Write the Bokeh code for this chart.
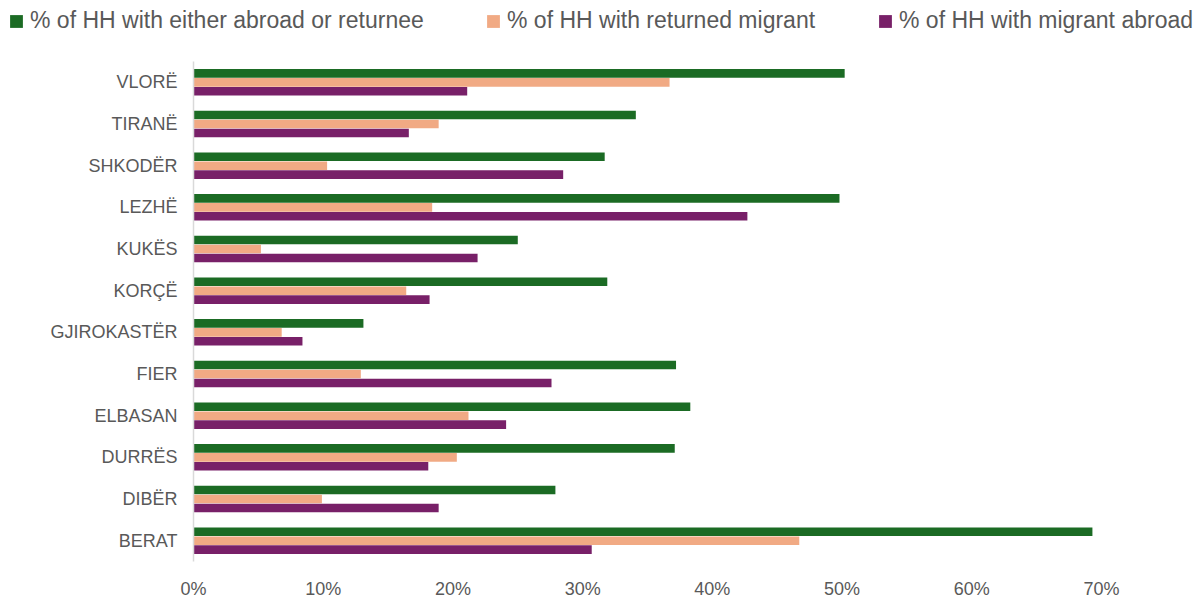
from bokeh.plotting import figure
from bokeh.models import (FactorRange, Range1d, Legend, LegendItem,
                          NumeralTickFormatter, ColumnDataSource, FixedTicker)
from bokeh.transform import dodge
from bokeh.embed import file_html
from bokeh.resources import INLINE

# ---- data (percent) ----
regions = ["BERAT", "DIBËR", "DURRËS", "ELBASAN", "FIER", "GJIROKASTËR",
           "KORÇË", "KUKËS", "LEZHË", "SHKODËR", "TIRANË", "VLORË"]
either_pct = [69.3, 27.9, 37.1, 38.3, 37.2, 13.1, 31.9, 25.0, 49.8, 31.7, 34.1, 50.2]
returned_pct = [46.7, 9.9, 20.3, 21.2, 12.9, 6.8, 16.4, 5.2, 18.4, 10.3, 18.9, 36.7]
abroad_pct = [30.7, 18.9, 18.1, 24.1, 27.6, 8.4, 18.2, 21.9, 42.7, 28.5, 16.6, 21.1]
series_names = ["% of HH with either abroad or returnee",
                "% of HH with returned migrant",
                "% of HH with migrant abroad"]
x_ticks_pct = [0, 10, 20, 30, 40, 50, 60, 70]

colors = ["#1b6b24", "#f1aa84", "#782068"]
FONT = "Liberation Sans"
TXT = "#595959"
W = 1194
LEG_H = 38

source = ColumnDataSource(dict(
    region=regions,
    either=[v / 100 for v in either_pct],
    returned=[v / 100 for v in returned_pct],
    abroad=[v / 100 for v in abroad_pct],
))

# ---- main chart ----
p = figure(width=W, height=23 + 502 + 38,
           y_range=FactorRange(factors=regions, range_padding=0),
           x_range=Range1d(0, x_ticks_pct[-1] / 100),
           output_backend="svg", toolbar_location=None,
           min_border_left=193, min_border_right=93,
           min_border_top=23, min_border_bottom=38)
p.outline_line_color = None
p.xgrid.visible = False
p.ygrid.visible = False

BH = 0.206
OFF = 0.215
cols = ["either", "returned", "abroad"]
offs = [OFF, 0.0, -OFF]
for c, o, col in zip(cols, offs, colors):
    p.hbar(y=dodge("region", o, range=p.y_range), right=c, left=0,
           height=BH, source=source, color=col, line_color=None)

p.yaxis.axis_line_color = "#d9d9d9"
p.yaxis.axis_line_width = 1.5
p.yaxis.major_tick_line_color = None
p.yaxis.minor_tick_line_color = None
p.yaxis.major_tick_out = 0
p.yaxis.major_tick_in = 0
p.yaxis.major_label_text_font = FONT
p.yaxis.major_label_text_font_size = "18px"
p.yaxis.major_label_text_color = TXT
p.yaxis.major_label_standoff = 16

p.xaxis.axis_line_color = None
p.xaxis.major_tick_line_color = None
p.xaxis.minor_tick_line_color = None
p.xaxis.major_tick_out = 0
p.xaxis.major_tick_in = 0
p.xaxis.ticker = FixedTicker(ticks=[t / 100 for t in x_ticks_pct])
p.xaxis.formatter = NumeralTickFormatter(format="0%")
p.xaxis.major_label_text_font = FONT
p.xaxis.major_label_text_font_size = "18px"
p.xaxis.major_label_text_color = TXT
p.xaxis.major_label_standoff = 17

# ---- legend strip on top (separate root so its frame spans the full width) ----
lg = figure(width=W, height=LEG_H, x_range=Range1d(0, 1), y_range=Range1d(0, 1),
            output_backend="svg", toolbar_location=None,
            x_axis_location=None, y_axis_location=None,
            min_border=0, min_border_left=0, min_border_right=0,
            min_border_top=0, min_border_bottom=0)
lg.outline_line_color = None
lg.xgrid.visible = False
lg.ygrid.visible = False

leg_x = [8, 485, 877]
for name, col, lx in zip(series_names, colors, leg_x):
    # zero-width swatch renderer, only used to draw the legend key
    r = lg.hbar(y=[0.5], right=[0], left=[0], height=0.5,
                color=col, line_color=None)
    leg = Legend(items=[LegendItem(label=name, renderers=[r])],
                 location=(lx, 4), orientation="horizontal",
                 border_line_color=None, background_fill_alpha=0,
                 padding=0, margin=0, glyph_width=16, glyph_height=16,
                 label_standoff=6, label_text_font=FONT,
                 label_text_font_size="23px", label_text_color=TXT)
    lg.add_layout(leg, "center")

open("out.html", "w").write(file_html([lg, p], INLINE))
